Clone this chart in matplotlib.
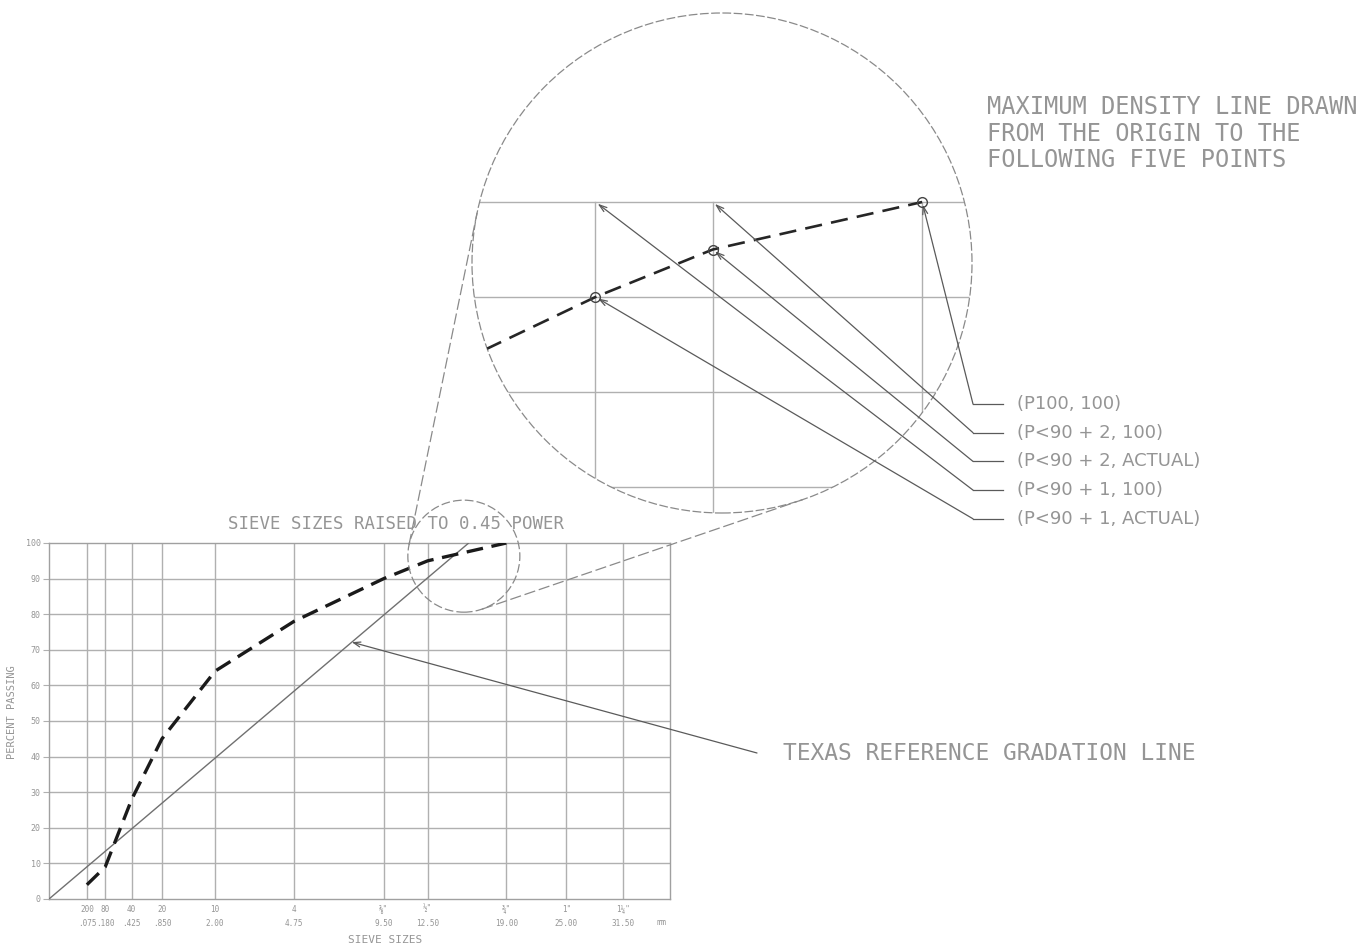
import numpy as np
import matplotlib
matplotlib.use('Agg')
import matplotlib.pyplot as plt
from matplotlib.patches import Circle
from matplotlib.lines import Line2D
from matplotlib.transforms import ScaledTranslation

# ---- data ----
power = 0.45
max_size_mm = 37.5

sieve_no = ['200', '80', '40', '20', '10', '4', '⅜"', '½"', '¾"', '1"', '1¼"']
sieve_mm = [0.075, 0.180, 0.425, 0.850, 2.00, 4.75, 9.50, 12.50, 19.00, 25.00, 31.50]
sieve_mm_lbl = ['.075', '.180', '.425', '.850', '2.00', '4.75', '9.50', '12.50', '19.00', '25.00', '31.50']
percent_ticks = [0, 10, 20, 30, 40, 50, 60, 70, 80, 90, 100]

# gradation (dashed)
grad_mm = [0.075, 0.180, 0.425, 0.850, 2.00, 4.75, 9.50, 12.50, 19.00]
grad_pass = [4, 9, 28, 45, 64, 78, 90, 95, 100]

# Texas reference gradation line
ref_mm = [0.0, 15.7]
ref_pass = [0, 100]
ref_pointer_mm = 7.6

# magnified region (centre in mm / percent)
zoom_center_mm = 15.3
zoom_center_pass = 96.3

# maximum density line end points
md_labels = ['(P100, 100)', '(P<90 + 2, 100)', '(P<90 + 2, ACTUAL)',
             '(P<90 + 1, 100)', '(P<90 + 1, ACTUAL)']
md_mm = [19.00, 12.50, 12.50, 9.50, 9.50]
md_pass = [100, 100, 95, 100, 90]

# ---- styling ----
W, H = 1367, 949
mono = ['DejaVu Sans Mono', 'DejaVu Sans']
txt_c = '#959595'
grid_c = '#b0b0b0'


def fx(px):
  return px / W


def fy(py):
  return 1 - py / H


def pw(mm):
  return np.power(np.asarray(mm, dtype=float), power)


fig = plt.figure(figsize=(W / 100, H / 100), dpi=100)
fig.patch.set_facecolor('white')

# ---- main chart ----
ax = fig.add_axes([fx(49), fy(899), (670 - 49) / W, (899 - 543) / H])
ax.set_xlim(0, pw(max_size_mm))
ax.set_ylim(0, 100)
for s in ax.spines.values():
  s.set_color('#a0a0a0')
  s.set_linewidth(1.0)
for xv in pw(sieve_mm):
  ax.axvline(xv, color=grid_c, lw=1.0, zorder=1)
for yv in percent_ticks[1:-1]:
  ax.axhline(yv, color=grid_c, lw=1.0, zorder=1)

ax.set_yticks(percent_ticks)
ax.set_yticklabels([str(p) for p in percent_ticks], family=mono, fontsize=6, color=txt_c)
ax.set_xticks(pw(sieve_mm))
ax.set_xticklabels([a + '\n' + b for a, b in zip(sieve_no, sieve_mm_lbl)],
                   family=mono, fontsize=5.5, color=txt_c, linespacing=1.8)
ax.tick_params(axis='y', length=4, color=grid_c, pad=2)
ax.tick_params(axis='x', length=0, pad=4)
ax.annotate('mm', xy=(1, 0), xycoords='axes fraction', xytext=(-6, -17),
            textcoords='offset points', family=mono, fontsize=6, color=txt_c,
            ha='center', va='center')

ax.plot(pw(ref_mm), ref_pass, color='#707070', lw=1.0, zorder=3)
ax.plot(pw(grad_mm), grad_pass, color='#1a1a1a', lw=2.4, ls=(0, (5, 2.6)), zorder=4,
        dash_capstyle='butt')

fig.text(fx(396), fy(524), 'SIEVE SIZES RAISED TO 0.45 POWER', family=mono, fontsize=12.5,
         color=txt_c, ha='center', va='center')
fig.text(fx(385), fy(940), 'SIEVE SIZES', family=mono, fontsize=8, color=txt_c,
         ha='center', va='center')
fig.text(fx(12), fy(712), 'PERCENT PASSING', family=mono, fontsize=7.5, color=txt_c,
         rotation=90, ha='center', va='center')

# small dashed circle marking the magnified region
r_small_in = 0.56
small = Circle((0, 0), r_small_in, fill=False, ec='#8a8a8a', lw=0.9, ls=(0, (7, 2.5)),
               transform=fig.dpi_scale_trans + ScaledTranslation(
                   pw(zoom_center_mm), zoom_center_pass, ax.transData))
fig.add_artist(small)

# Texas reference line pointer
ref_ptr_x = pw(ref_pointer_mm)
ref_ptr_y = np.interp(ref_ptr_x, pw(ref_mm), ref_pass)
ax.annotate('', xy=(ref_ptr_x, ref_ptr_y), xycoords='data',
            xytext=(fx(757), fy(753)), textcoords='figure fraction',
            arrowprops=dict(arrowstyle='->,head_length=0.5,head_width=0.18',
                            lw=0.9, color='#5a5a5a', shrinkA=0, shrinkB=0))
fig.text(fx(783), fy(754), 'TEXAS REFERENCE GRADATION LINE', family=mono, fontsize=16.5,
         color=txt_c, ha='left', va='center')

# ---- magnified view ----
axz = fig.add_axes([fx(472), fy(513), 500 / W, 500 / H])
axz.set_xlim(2.373, 3.916)
axz.set_ylim(67.26, 119.9)
axz.axis('off')
clip = Circle((0.5, 0.5), 0.5, transform=axz.transAxes)
for xv in pw(sieve_mm):
  ln, = axz.plot([xv, xv], [0, 100], color=grid_c, lw=1.0, zorder=1)
  ln.set_clip_path(clip)
for yv in percent_ticks[1:]:
  ln, = axz.plot([0, pw(max_size_mm)], [yv, yv], color=grid_c, lw=1.0, zorder=1)
  ln.set_clip_path(clip)
ln, = axz.plot(pw(grad_mm), grad_pass, color='#262626', lw=1.9, ls=(0, (6.5, 3.5)),
               zorder=3, dash_capstyle='butt')
ln.set_clip_path(clip)
sel = [i for i, p in enumerate(grad_pass) if p >= 90]
axz.plot(pw([grad_mm[i] for i in sel]), [grad_pass[i] for i in sel], ls='none',
         marker='o', ms=7, mfc='none', mec='#444444', mew=1.0, zorder=4)
big = Circle((0.5, 0.5), 0.5, transform=axz.transAxes, fill=False, ec='#8a8a8a',
             lw=0.9, ls=(0, (7, 2)), clip_on=False)
axz.add_artist(big)

# leaders to the five points
for i, (lab, mm, p) in enumerate(zip(md_labels, md_mm, md_pass)):
  ypx = 404 + i * 28.7
  axz.annotate('', xy=(pw(mm), p), xycoords='data',
               xytext=(fx(973), fy(ypx)), textcoords='figure fraction',
               arrowprops=dict(arrowstyle='->,head_length=0.55,head_width=0.18',
                               lw=0.9, color='#5a5a5a', shrinkA=0, shrinkB=2))
  fig.add_artist(Line2D([fx(973), fx(1003)], [fy(ypx), fy(ypx)], transform=fig.transFigure,
                        color='#5a5a5a', lw=0.9))
  fig.text(fx(1017), fy(ypx), lab, fontsize=13, color=txt_c, ha='left', va='center')

for k, line in enumerate(['MAXIMUM DENSITY LINE DRAWN', 'FROM THE ORIGIN TO THE',
                          'FOLLOWING FIVE POINTS']):
  fig.text(fx(987), fy(107 + k * 26.6), line, family=mono, fontsize=17, color=txt_c,
           ha='left', va='center')

# ---- dashed tangents joining the two circles ----
c1 = ax.transData.transform((pw(zoom_center_mm), zoom_center_pass))
r1 = r_small_in * fig.dpi
c2 = axz.transAxes.transform((0.5, 0.5))
r2 = 0.5 * axz.bbox.width
D = c2 - c1
L = np.hypot(*D)
a = np.arccos((r2 - r1) / L)
th = np.arctan2(D[1], D[0])
inv = fig.transFigure.inverted()
for sgn in (1, -1):
  n = np.array([np.cos(th + sgn * a), np.sin(th + sgn * a)])
  p1 = inv.transform(c1 - r1 * n)
  p2 = inv.transform(c2 - r2 * n)
  fig.add_artist(Line2D([p1[0], p2[0]], [p1[1], p2[1]], transform=fig.transFigure,
                        color='#8a8a8a', lw=0.9, ls=(0, (9, 3))))

fig.savefig('out.png', dpi=100, facecolor='white')
